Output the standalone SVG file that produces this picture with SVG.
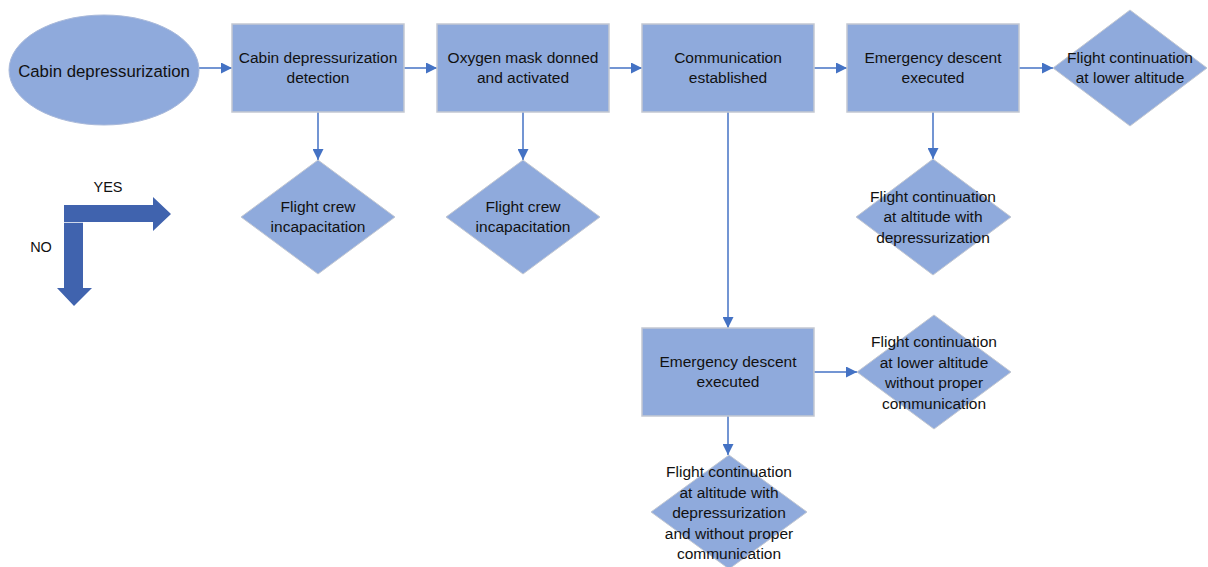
<svg xmlns="http://www.w3.org/2000/svg" width="1208" height="567" viewBox="0 0 1208 567">
  <style>
    .box { fill: #8FAADC; stroke: #C3C8D2; stroke-width: 1.5; }
    .dia { fill: #8FAADC; stroke: #C3C8D2; stroke-width: 1; }
    .lbl { font-family: "Liberation Sans", Arial, sans-serif; font-size: 15.5px; fill: #111; text-anchor: middle; }
    .big { font-size: 16.8px; }
    .key { font-family: "Liberation Sans", Arial, sans-serif; font-size: 14.5px; fill: #111; text-anchor: middle; }
    .conn line { stroke: #4472C4; stroke-width: 1.5; marker-end: url(#head); }
    .bent { fill: #4063AE; }
  </style>
  <defs>
    <marker id="head" markerUnits="userSpaceOnUse" viewBox="0 0 10 10" refX="10" refY="5" markerWidth="11" markerHeight="11" orient="auto">
      <path d="M0,0 L10,5 L0,10 z" fill="#4472C4"/>
    </marker>
  </defs>
  <rect width="1208" height="567" fill="#FFFFFF"/>

  <!-- connectors -->
  <g id="connectors" class="conn">
    <line x1="199" y1="68" x2="232" y2="68"/>
    <line x1="404" y1="68" x2="437" y2="68"/>
    <line x1="609" y1="68" x2="642" y2="68"/>
    <line x1="814" y1="68" x2="847" y2="68"/>
    <line x1="1019" y1="68" x2="1053" y2="68"/>
    <line x1="318" y1="112" x2="318" y2="160"/>
    <line x1="523" y1="112" x2="523" y2="160"/>
    <line x1="728" y1="112" x2="728" y2="328"/>
    <line x1="933" y1="112" x2="933" y2="159"/>
    <line x1="814" y1="372" x2="857" y2="372"/>
    <line x1="728" y1="416" x2="728" y2="455"/>
  </g>

  <g id="start">
    <ellipse cx="104" cy="70" rx="95" ry="55" fill="#8FAADC" stroke="#A9B9DA" stroke-width="1"/>
    <text class="lbl big" x="104" y="76.5">Cabin depressurization</text>
  </g>

  <g id="detection">
    <rect class="box" x="232" y="24" width="172" height="88"/>
    <text class="lbl" x="318" y="62.75">Cabin depressurization</text>
    <text class="lbl" x="318" y="83.25">detection</text>
  </g>

  <g id="oxygen">
    <rect class="box" x="437" y="24" width="172" height="88"/>
    <text class="lbl" x="523" y="62.75">Oxygen mask donned</text>
    <text class="lbl" x="523" y="83.25">and activated</text>
  </g>

  <g id="communication">
    <rect class="box" x="642" y="24" width="172" height="88"/>
    <text class="lbl" x="728" y="62.75">Communication</text>
    <text class="lbl" x="728" y="83.25">established</text>
  </g>

  <g id="descent1">
    <rect class="box" x="847" y="24" width="172" height="88"/>
    <text class="lbl" x="933" y="62.75">Emergency descent</text>
    <text class="lbl" x="933" y="83.25">executed</text>
  </g>

  <g id="lower-altitude">
    <polygon class="dia" points="1130,10 1207,68 1130,126 1053,68"/>
    <text class="lbl" x="1130" y="62.75">Flight continuation</text>
    <text class="lbl" x="1130" y="83.25">at lower altitude</text>
  </g>

  <g id="crew1">
    <polygon class="dia" points="318,160 395,217 318,274 241,217"/>
    <text class="lbl" x="318" y="211.75">Flight crew</text>
    <text class="lbl" x="318" y="232.25">incapacitation</text>
  </g>

  <g id="crew2">
    <polygon class="dia" points="523,160 600,217 523,274 446,217"/>
    <text class="lbl" x="523" y="211.75">Flight crew</text>
    <text class="lbl" x="523" y="232.25">incapacitation</text>
  </g>

  <g id="altitude-depress">
    <polygon class="dia" points="933,159 1011,217 933,275 856,217"/>
    <text class="lbl" x="933" y="201.5">Flight continuation</text>
    <text class="lbl" x="933" y="222">at altitude with</text>
    <text class="lbl" x="933" y="242.5">depressurization</text>
  </g>

  <g id="descent2">
    <rect class="box" x="642" y="328" width="172" height="88"/>
    <text class="lbl" x="728" y="366.5">Emergency descent</text>
    <text class="lbl" x="728" y="387">executed</text>
  </g>

  <g id="lower-no-comm">
    <polygon class="dia" points="934,315 1011,372 934,429 857,372"/>
    <text class="lbl" x="934" y="347">Flight continuation</text>
    <text class="lbl" x="934" y="367.5">at lower altitude</text>
    <text class="lbl" x="934" y="388">without proper</text>
    <text class="lbl" x="934" y="408.5">communication</text>
  </g>

  <g id="altitude-no-comm">
    <polygon class="dia" points="729,455 807,512 729,569 651,512"/>
    <text class="lbl" x="729" y="477">Flight continuation</text>
    <text class="lbl" x="729" y="497.5">at altitude with</text>
    <text class="lbl" x="729" y="518">depressurization</text>
    <text class="lbl" x="729" y="538.5">and without proper</text>
    <text class="lbl" x="729" y="559">communication</text>
  </g>

  <!-- YES / NO key -->
  <g id="legend">
    <polygon class="bent" points="64,205 153,205 153,197 171,214 153,231 153,222 64,222"/>
    <polygon class="bent" points="64,222.8 83,222.8 83,288 92,288 74,306 57,288 64,288"/>
    <text class="key" x="108" y="192">YES</text>
    <text class="key" x="41" y="252">NO</text>
  </g>
</svg>
